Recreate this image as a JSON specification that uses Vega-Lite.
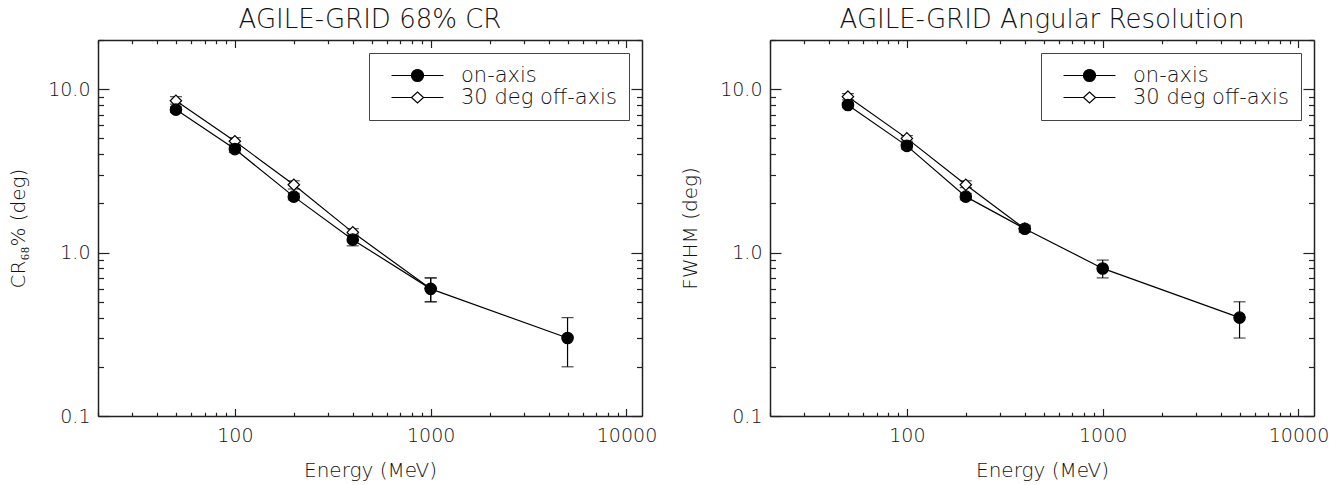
{
  "$schema": "https://vega.github.io/schema/vega-lite/v6.json",
  "background": "white",
  "padding": {"left": 8, "top": 7, "right": 5, "bottom": 5},
  "config": {
    "font": "DejaVu Sans",
    "view": {"stroke": null},
    "axis": {
      "grid": false,
      "domainColor": "#222",
      "domainWidth": 1.5,
      "tickColor": "#222",
      "tickWidth": 1.2,
      "labelFont": "DejaVu Sans",
      "labelFontSize": 19,
      "labelFontWeight": 200,
      "labelColor": "#111",
      "titleFont": "DejaVu Sans",
      "titleFontSize": 20,
      "titleFontWeight": 200,
      "titleColor": "#111",
      "labelOverlap": false,
      "labelFlush": false,
      "labelBound": false
    },
    "title": {"font": "DejaVu Sans", "fontSize": 26, "fontWeight": 200, "color": "#111", "offset": -2, "frame": "group"},
    "legend": {
      "strokeColor": "#444",
      "padding": 12,
      "labelFont": "DejaVu Sans",
      "labelFontSize": 21,
      "labelFontWeight": 200,
      "labelColor": "#111",
      "labelLimit": 400,
      "symbolSize": 144,
      "symbolOpacity": 1,
      "symbolStrokeWidth": 1.2,
      "symbolOffset": 26,
      "labelOffset": 33,
      "rowPadding": 0
    }
  },
  "datasets": {
    "cr": [
      {"E": 50, "series": "30 deg off-axis", "val": 8.5, "lo": 8.1, "hi": 9.0},
      {"E": 100, "series": "30 deg off-axis", "val": 4.8, "lo": 4.6, "hi": 5.05},
      {"E": 200, "series": "30 deg off-axis", "val": 2.6, "lo": 2.45, "hi": 2.75},
      {"E": 400, "series": "30 deg off-axis", "val": 1.33, "lo": 1.27, "hi": 1.4},
      {"E": 1000, "series": "30 deg off-axis", "val": 0.6, "lo": 0.5, "hi": 0.7},
      {"E": 50, "series": "on-axis", "val": 7.5, "lo": 7.2, "hi": 7.8},
      {"E": 100, "series": "on-axis", "val": 4.3, "lo": 4.1, "hi": 4.5},
      {"E": 200, "series": "on-axis", "val": 2.2, "lo": 2.1, "hi": 2.3},
      {"E": 400, "series": "on-axis", "val": 1.2, "lo": 1.1, "hi": 1.3},
      {"E": 1000, "series": "on-axis", "val": 0.6, "lo": 0.5, "hi": 0.7},
      {"E": 5000, "series": "on-axis", "val": 0.3, "lo": 0.2, "hi": 0.4}
    ],
    "fwhm": [
      {"E": 50, "series": "30 deg off-axis", "val": 9.0, "lo": 8.6, "hi": 9.4},
      {"E": 100, "series": "30 deg off-axis", "val": 5.0, "lo": 4.8, "hi": 5.2},
      {"E": 200, "series": "30 deg off-axis", "val": 2.6, "lo": 2.5, "hi": 2.75},
      {"E": 400, "series": "30 deg off-axis", "val": 1.4, "lo": 1.35, "hi": 1.45},
      {"E": 50, "series": "on-axis", "val": 8.0, "lo": 7.7, "hi": 8.3},
      {"E": 100, "series": "on-axis", "val": 4.5, "lo": 4.3, "hi": 4.7},
      {"E": 200, "series": "on-axis", "val": 2.2, "lo": 2.1, "hi": 2.3},
      {"E": 400, "series": "on-axis", "val": 1.4, "lo": 1.33, "hi": 1.47},
      {"E": 1000, "series": "on-axis", "val": 0.8, "lo": 0.7, "hi": 0.9},
      {"E": 5000, "series": "on-axis", "val": 0.4, "lo": 0.3, "hi": 0.5}
    ]
  },
  "spacing": 23,
  "resolve": {
    "scale": {"shape": "independent", "fill": "independent", "stroke": "independent"},
    "legend": {"shape": "independent", "fill": "independent", "stroke": "independent"}
  },
  "hconcat": [
    {
      "title": "AGILE-GRID 68% CR",
      "width": 544,
      "height": 376,
      "data": {"name": "cr"},
      "resolve": {"axis": {"x": "independent", "y": "independent"}},
      "layer": [
        {
          "mark": {"type": "errorbar", "ticks": {"size": 12}, "color": "black", "thickness": 1.2},
          "encoding": {
            "x": {"field": "E", "type": "quantitative", "scale": {"type": "log", "domain": [20, 12000], "nice": false}, "axis": null},
            "y": {"field": "lo", "type": "quantitative", "scale": {"type": "log", "domain": [0.1, 20], "nice": false}, "axis": null},
            "y2": {"field": "hi"}
          }
        },
        {
          "mark": {"type": "line", "color": "black", "strokeWidth": 1.2},
          "encoding": {
            "x": {"field": "E", "type": "quantitative", "scale": {"type": "log", "domain": [20, 12000], "nice": false},
              "axis": {"orient": "bottom", "values": [20,30,40,50,60,70,80,90,100,200,300,400,500,600,700,800,900,1000,2000,3000,4000,5000,6000,7000,8000,9000,10000],
                "format": "d", "labelExpr": "abs(log(datum.value)/LN10 - round(log(datum.value)/LN10)) < 0.01 ? datum.label : ''",
                "tickSize": {"condition": {"test": "abs(log(datum.value)/LN10 - round(log(datum.value)/LN10)) < 0.01", "value": -7.5}, "value": -3.75},
                "labelPadding": 18, "title": "Energy (MeV)", "titlePadding": 11}},
            "y": {"field": "val", "type": "quantitative", "scale": {"type": "log", "domain": [0.1, 20], "nice": false},
              "axis": {"orient": "left", "values": [0.1,0.2,0.3,0.4,0.5,0.6,0.7,0.8,0.9,1,2,3,4,5,6,7,8,9,10,20],
                "format": ".1f", "labelExpr": "abs(log(datum.value)/LN10 - round(log(datum.value)/LN10)) < 0.01 ? datum.label : ''",
                "tickSize": {"condition": {"test": "abs(log(datum.value)/LN10 - round(log(datum.value)/LN10)) < 0.01", "value": -11}, "value": -5.5},
                "labelPadding": 19, "title": "CR₆₈% (deg)", "titlePadding": 19}},
            "detail": {"field": "series", "type": "nominal"}
          }
        },
        {
          "transform": [{"filter": "datum.series === '30 deg off-axis'"}],
          "mark": {"type": "point", "shape": "diamond", "filled": true, "fill": "white", "size": 130, "stroke": "black", "strokeWidth": 1.2, "opacity": 1},
          "encoding": {
            "x": {"field": "E", "type": "quantitative", "scale": {"type": "log", "domain": [20, 12000], "nice": false},
              "axis": {"orient": "top", "values": [20,30,40,50,60,70,80,90,100,200,300,400,500,600,700,800,900,1000,2000,3000,4000,5000,6000,7000,8000,9000,10000],
                "labels": false, "title": null,
                "tickSize": {"condition": {"test": "abs(log(datum.value)/LN10 - round(log(datum.value)/LN10)) < 0.01", "value": -7.5}, "value": -3.75}}},
            "y": {"field": "val", "type": "quantitative", "scale": {"type": "log", "domain": [0.1, 20], "nice": false},
              "axis": {"orient": "right", "values": [0.1,0.2,0.3,0.4,0.5,0.6,0.7,0.8,0.9,1,2,3,4,5,6,7,8,9,10,20],
                "labels": false, "title": null,
                "tickSize": {"condition": {"test": "abs(log(datum.value)/LN10 - round(log(datum.value)/LN10)) < 0.01", "value": -11}, "value": -5.5}}}
          }
        },
        {
          "transform": [{"filter": "datum.series === 'on-axis'"}],
          "mark": {"type": "point", "shape": "circle", "filled": true, "fill": "black", "size": 130, "stroke": "black", "strokeWidth": 1.2, "opacity": 1},
          "encoding": {
            "x": {"field": "E", "type": "quantitative", "scale": {"type": "log", "domain": [20, 12000], "nice": false}, "axis": null},
            "y": {"field": "val", "type": "quantitative", "scale": {"type": "log", "domain": [0.1, 20], "nice": false}, "axis": null}
          }
        },
        {
          "mark": {"type": "point", "filled": true, "size": 130, "strokeWidth": 1.2, "opacity": 0},
          "encoding": {
            "x": {"field": "E", "type": "quantitative", "scale": {"type": "log", "domain": [20, 12000], "nice": false}, "axis": null},
            "y": {"field": "val", "type": "quantitative", "scale": {"type": "log", "domain": [0.1, 20], "nice": false}, "axis": null},
            "shape": {"field": "series", "type": "nominal",
              "scale": {"domain": ["on-axis", "30 deg off-axis"], "range": ["M-4.33,0L4.33,0M-1,0A1,1,0,1,1,1,0A1,1,0,1,1,-1,0Z", "M-4.33,0L-1,0M1,0L4.33,0M-1,0L0,-0.9L1,0L0,0.9Z"]},
              "legend": {"title": null, "orient": "top-right", "offset": 13}},
            "fill": {"field": "series", "type": "nominal",
              "scale": {"domain": ["on-axis", "30 deg off-axis"], "range": ["black", "white"]},
              "legend": {"title": null, "orient": "top-right", "offset": 13}},
            "stroke": {"field": "series", "type": "nominal",
              "scale": {"domain": ["on-axis", "30 deg off-axis"], "range": ["black", "black"]},
              "legend": {"title": null, "orient": "top-right", "offset": 13}}
          }
        }
      ]
    },
    {
      "title": "AGILE-GRID Angular Resolution",
      "width": 544,
      "height": 376,
      "data": {"name": "fwhm"},
      "resolve": {"axis": {"x": "independent", "y": "independent"}},
      "layer": [
        {
          "mark": {"type": "errorbar", "ticks": {"size": 12}, "color": "black", "thickness": 1.2},
          "encoding": {
            "x": {"field": "E", "type": "quantitative", "scale": {"type": "log", "domain": [20, 12000], "nice": false}, "axis": null},
            "y": {"field": "lo", "type": "quantitative", "scale": {"type": "log", "domain": [0.1, 20], "nice": false}, "axis": null},
            "y2": {"field": "hi"}
          }
        },
        {
          "mark": {"type": "line", "color": "black", "strokeWidth": 1.2},
          "encoding": {
            "x": {"field": "E", "type": "quantitative", "scale": {"type": "log", "domain": [20, 12000], "nice": false},
              "axis": {"orient": "bottom", "values": [20,30,40,50,60,70,80,90,100,200,300,400,500,600,700,800,900,1000,2000,3000,4000,5000,6000,7000,8000,9000,10000],
                "format": "d", "labelExpr": "abs(log(datum.value)/LN10 - round(log(datum.value)/LN10)) < 0.01 ? datum.label : ''",
                "tickSize": {"condition": {"test": "abs(log(datum.value)/LN10 - round(log(datum.value)/LN10)) < 0.01", "value": -7.5}, "value": -3.75},
                "labelPadding": 18, "title": "Energy (MeV)", "titlePadding": 11}},
            "y": {"field": "val", "type": "quantitative", "scale": {"type": "log", "domain": [0.1, 20], "nice": false},
              "axis": {"orient": "left", "values": [0.1,0.2,0.3,0.4,0.5,0.6,0.7,0.8,0.9,1,2,3,4,5,6,7,8,9,10,20],
                "format": ".1f", "labelExpr": "abs(log(datum.value)/LN10 - round(log(datum.value)/LN10)) < 0.01 ? datum.label : ''",
                "tickSize": {"condition": {"test": "abs(log(datum.value)/LN10 - round(log(datum.value)/LN10)) < 0.01", "value": -11}, "value": -5.5},
                "labelPadding": 19, "title": "FWHM (deg)", "titlePadding": 19}},
            "detail": {"field": "series", "type": "nominal"}
          }
        },
        {
          "transform": [{"filter": "datum.series === '30 deg off-axis'"}],
          "mark": {"type": "point", "shape": "diamond", "filled": true, "fill": "white", "size": 130, "stroke": "black", "strokeWidth": 1.2, "opacity": 1},
          "encoding": {
            "x": {"field": "E", "type": "quantitative", "scale": {"type": "log", "domain": [20, 12000], "nice": false},
              "axis": {"orient": "top", "values": [20,30,40,50,60,70,80,90,100,200,300,400,500,600,700,800,900,1000,2000,3000,4000,5000,6000,7000,8000,9000,10000],
                "labels": false, "title": null,
                "tickSize": {"condition": {"test": "abs(log(datum.value)/LN10 - round(log(datum.value)/LN10)) < 0.01", "value": -7.5}, "value": -3.75}}},
            "y": {"field": "val", "type": "quantitative", "scale": {"type": "log", "domain": [0.1, 20], "nice": false},
              "axis": {"orient": "right", "values": [0.1,0.2,0.3,0.4,0.5,0.6,0.7,0.8,0.9,1,2,3,4,5,6,7,8,9,10,20],
                "labels": false, "title": null,
                "tickSize": {"condition": {"test": "abs(log(datum.value)/LN10 - round(log(datum.value)/LN10)) < 0.01", "value": -11}, "value": -5.5}}}
          }
        },
        {
          "transform": [{"filter": "datum.series === 'on-axis'"}],
          "mark": {"type": "point", "shape": "circle", "filled": true, "fill": "black", "size": 130, "stroke": "black", "strokeWidth": 1.2, "opacity": 1},
          "encoding": {
            "x": {"field": "E", "type": "quantitative", "scale": {"type": "log", "domain": [20, 12000], "nice": false}, "axis": null},
            "y": {"field": "val", "type": "quantitative", "scale": {"type": "log", "domain": [0.1, 20], "nice": false}, "axis": null}
          }
        },
        {
          "mark": {"type": "point", "filled": true, "size": 130, "strokeWidth": 1.2, "opacity": 0},
          "encoding": {
            "x": {"field": "E", "type": "quantitative", "scale": {"type": "log", "domain": [20, 12000], "nice": false}, "axis": null},
            "y": {"field": "val", "type": "quantitative", "scale": {"type": "log", "domain": [0.1, 20], "nice": false}, "axis": null},
            "shape": {"field": "series", "type": "nominal",
              "scale": {"domain": ["on-axis", "30 deg off-axis"], "range": ["M-4.33,0L4.33,0M-1,0A1,1,0,1,1,1,0A1,1,0,1,1,-1,0Z", "M-4.33,0L-1,0M1,0L4.33,0M-1,0L0,-0.9L1,0L0,0.9Z"]},
              "legend": {"title": null, "orient": "top-right", "offset": 13}},
            "fill": {"field": "series", "type": "nominal",
              "scale": {"domain": ["on-axis", "30 deg off-axis"], "range": ["black", "white"]},
              "legend": {"title": null, "orient": "top-right", "offset": 13}},
            "stroke": {"field": "series", "type": "nominal",
              "scale": {"domain": ["on-axis", "30 deg off-axis"], "range": ["black", "black"]},
              "legend": {"title": null, "orient": "top-right", "offset": 13}}
          }
        }
      ]
    }
  ]
}
